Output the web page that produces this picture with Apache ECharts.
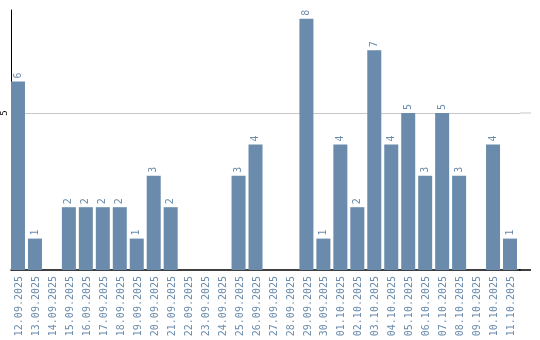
<!DOCTYPE html>
<html><head><meta charset="utf-8">
<script src="https://cdn.jsdelivr.net/npm/echarts@6/dist/echarts.min.js"></script>
<style>html,body{margin:0;padding:0;background:#fff}#c{width:540px;height:340px}</style>
</head><body><div id="c"></div>
<script>
const categories = ['12.09.2025','13.09.2025','14.09.2025','15.09.2025','16.09.2025','17.09.2025','18.09.2025','19.09.2025','20.09.2025','21.09.2025','22.09.2025','23.09.2025','24.09.2025','25.09.2025','26.09.2025','27.09.2025','28.09.2025','29.09.2025','30.09.2025','01.10.2025','02.10.2025','03.10.2025','04.10.2025','05.10.2025','06.10.2025','07.10.2025','08.10.2025','09.10.2025','10.10.2025','11.10.2025'];
const values = [6,1,0,2,2,2,2,1,3,2,0,0,0,3,4,0,0,8,1,4,2,7,4,5,3,5,3,0,4,1];
const yTicks = [5];

const barColor = '#6a8bab';
const chart = echarts.init(document.getElementById('c'), null, {renderer:'canvas'});
chart.setOption({
  animation: false,
  grid: {left: 10, top: 10, width: 510, bottom: 70, containLabel: false},
  xAxis: {
    type: 'category', data: categories,
    axisLine: {lineStyle: {color: '#000', width: 1.5}},
    axisTick: {show: false},
    axisLabel: {rotate: 90, interval: 0, margin: 6, color: '#6a8bab', fontFamily: 'DejaVu Sans Mono', fontSize: 10}
  },
  yAxis: {
    type: 'value', min: 0, max: 8.28, interval: 5,
    axisLine: {show: true, lineStyle: {color: '#000', width: 1}},
    axisTick: {show: false},
    axisLabel: {show: true, rotate: 90, margin: 2, color: '#000', fontFamily: 'DejaVu Sans Mono', fontSize: 9,
      showMinLabel: false, showMaxLabel: false,
      formatter: v => yTicks.includes(v) ? String(v) : ''},
    splitLine: {show: true, showMinLine: false, showMaxLine: false, lineStyle: {color: '#c8c8c8', width: 1}}
  },
  series: [
    {type: 'bar', data: values, barWidth: 14, barGap: '0%', itemStyle: {color: barColor},
     label: {show: true, position: 'top', rotate: 90, distance: 3, align: 'left', verticalAlign: 'middle',
       color: '#6a8bab', fontFamily: 'DejaVu Sans Mono', fontSize: 10,
       formatter: p => p.value > 0 ? String(p.value) : ''}},
    {type: 'bar', data: values.map(() => 0), barWidth: 3, itemStyle: {color: 'rgba(0,0,0,0)'}, silent: true}
  ]
});
// extend baseline and gridline to the right like the reference
const yBase = chart.convertToPixel({yAxisIndex: 0}, 0);
const y5 = chart.convertToPixel({yAxisIndex: 0}, 5);
chart.setOption({graphic: [
  {type: 'line', shape: {x1: 520, y1: y5, x2: 531, y2: y5}, style: {stroke: '#c8c8c8', lineWidth: 1}},
  {type: 'line', shape: {x1: 519, y1: yBase, x2: 531, y2: yBase}, style: {stroke: '#000', lineWidth: 1.5}}
]});
</script></body></html>
